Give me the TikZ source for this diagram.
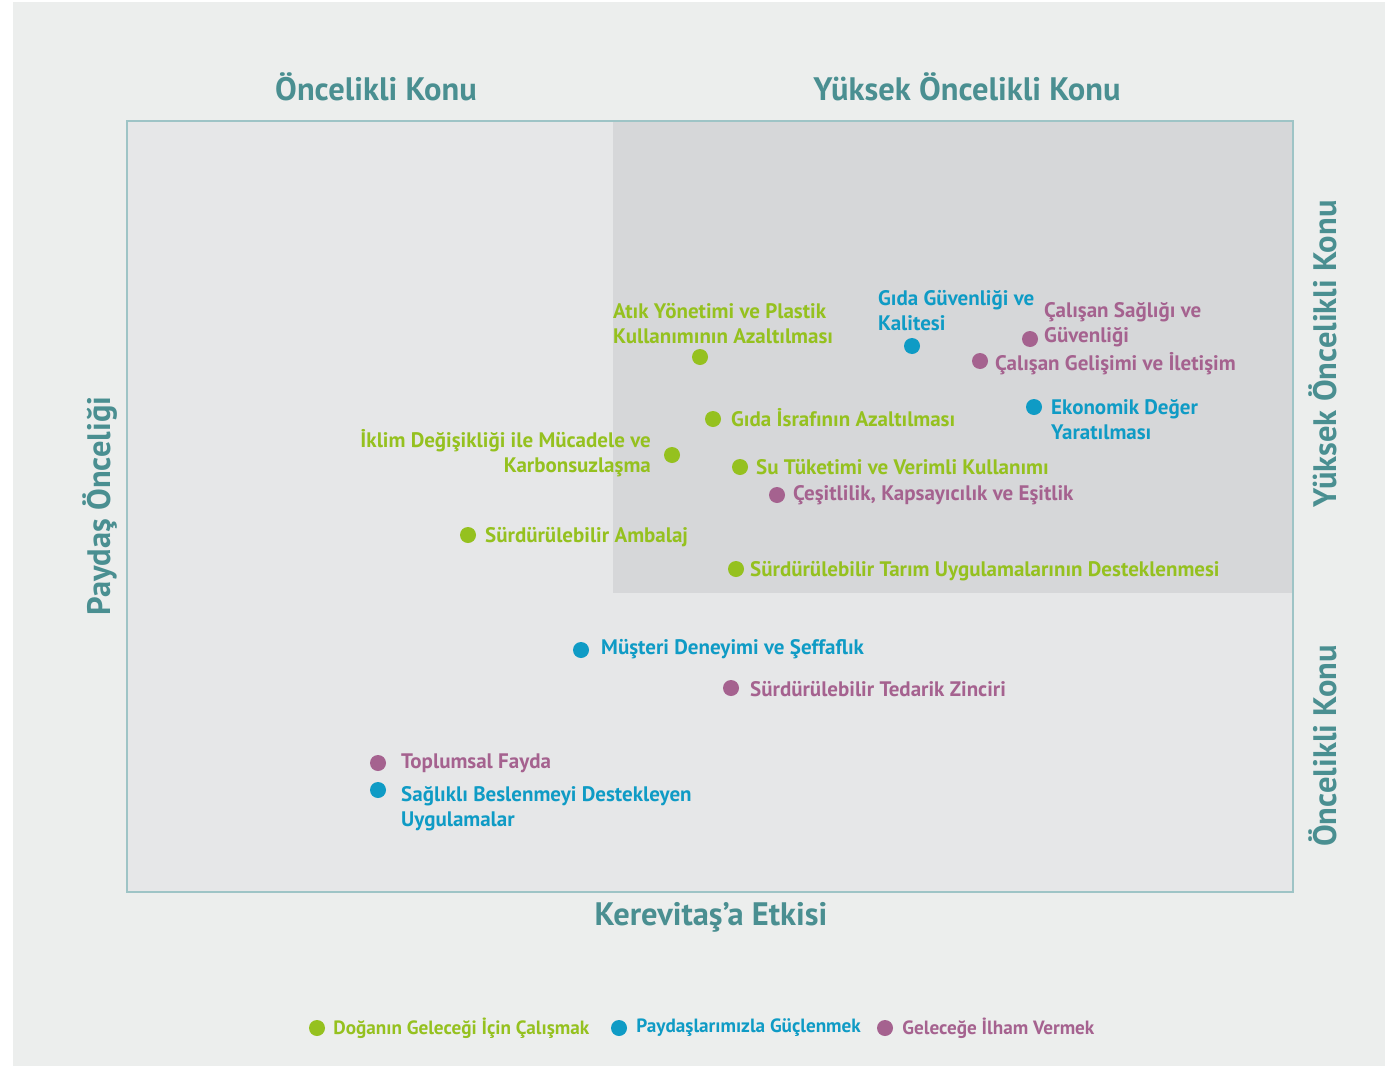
\documentclass[tikz,border=0pt]{standalone}
\usepackage{fontspec}
\setmainfont{PT Sans}
\usetikzlibrary{positioning}

\tikzset{
  dot/.style={circle, fill=#1, inner sep=0pt, minimum size=16pt},
  lbl/.style={text=#1, inner sep=0pt, align=left, font=\bfseries\fontsize{21}{25}\selectfont},
  leglbl/.style={text=#1, inner sep=0pt, font=\bfseries\fontsize{19.2}{22}\selectfont},
  head/.style={text=titleteal, inner sep=0pt, font=\bfseries\fontsize{32.5}{36}\selectfont}
}

\begin{document}
\begin{tikzpicture}[x=1pt, y=-1pt]

% Define colors for the picture
\definecolor{bggray}{RGB}{236,238,237}
\definecolor{boxgray}{RGB}{230,231,232}
\definecolor{highgray}{RGB}{214,215,217}
\definecolor{framecol}{RGB}{158,196,198}
\definecolor{titleteal}{RGB}{74,143,145}
\definecolor{natgreen}{RGB}{149,193,31}
\definecolor{stakeblue}{RGB}{15,155,197}
\definecolor{futpurple}{RGB}{165,98,143}

% Background and frame
\useasboundingbox (0,0) rectangle (1392,1068);
\fill[bggray] (13,2) rectangle (1385,1066);
\fill[boxgray] (127,121) rectangle (1293,892);
\fill[highgray] (613,121) rectangle (1293,593);
\draw[framecol, line width=2.5pt] (127,121) rectangle (1293,892);

% Headings
\node[head] (topleft) at (376,87) {Öncelikli Konu};
\node[head] (topright) at (967,87) {Yüksek Öncelikli Konu};
\node[head] (xaxis) at (711,917) {Kerevitaş’a Etkisi};
\node[head, rotate=90] (yaxis) at (100,506) {Paydaş Önceliği};
\node[head, rotate=90] (rightup) at (1323,354) {Yüksek Öncelikli Konu};
\node[head, rotate=90] (rightdown) at (1323,746) {Öncelikli Konu};

% Topics
\node[dot=natgreen] (atik) at (700,357) {};
\node[lbl=natgreen, anchor=west] (atiktxt) at (613,324) {Atık Yönetimi ve Plastik\\Kullanımının Azaltılması};

\node[dot=stakeblue] (gidag) at (912,346) {};
\node[lbl=stakeblue, anchor=west] (gidagtxt) at (878,311) {Gıda Güvenliği ve\\Kalitesi};

\node[dot=futpurple] (saglik) at (1030,339) {};
\node[lbl=futpurple, anchor=west] (saglitxt) at (1044,325) {Çalışan Sağlığı ve\\Güvenliği};

\node[dot=futpurple] (gelisim) at (980,361) {};
\node[lbl=futpurple, anchor=west] (gelisimtxt) at (995,364) {Çalışan Gelişimi ve İletişim};

\node[dot=stakeblue] (ekonomi) at (1034,407) {};
\node[lbl=stakeblue, anchor=west] (ekonomitxt) at (1051,420) {Ekonomik Değer\\Yaratılması};

\node[dot=natgreen] (israf) at (713,419) {};
\node[lbl=natgreen, anchor=west] (israftxt) at (731,418) {Gıda İsrafının Azaltılması};

\node[dot=natgreen] (iklim) at (672,455) {};
\node[lbl=natgreen, anchor=east, align=right] (iklimtxt) at (651,453) {İklim Değişikliği ile Mücadele ve\\Karbonsuzlaşma};

\node[dot=natgreen] (su) at (740,467) {};
\node[lbl=natgreen, anchor=west] (sutxt) at (756,467) {Su Tüketimi ve Verimli Kullanımı};

\node[dot=futpurple] (cesit) at (777,495) {};
\node[lbl=futpurple, anchor=west] (cesittxt) at (793,495) {Çeşitlilik, Kapsayıcılık ve Eşitlik};

\node[dot=natgreen] (ambalaj) at (468,535) {};
\node[lbl=natgreen, anchor=west] (ambalajtxt) at (485,537) {Sürdürülebilir Ambalaj};

\node[dot=natgreen] (tarim) at (736,569) {};
\node[lbl=natgreen, anchor=west] (tarimtxt) at (750,571) {Sürdürülebilir Tarım Uygulamalarının Desteklenmesi};

\node[dot=stakeblue] (musteri) at (581,650) {};
\node[lbl=stakeblue, anchor=west] (musteritxt) at (601,649) {Müşteri Deneyimi ve Şeffaflık};

\node[dot=futpurple] (tedarik) at (731,688) {};
\node[lbl=futpurple, anchor=west] (tedariktxt) at (750,689) {Sürdürülebilir Tedarik Zinciri};

\node[dot=futpurple] (fayda) at (378,763) {};
\node[lbl=futpurple, anchor=west] (faydatxt) at (401,763) {Toplumsal Fayda};

\node[dot=stakeblue] (beslenme) at (378,790) {};
\node[lbl=stakeblue, anchor=west] (beslenmetxt) at (401,809) {Sağlıklı Beslenmeyi Destekleyen\\Uygulamalar};

% Legend
\node[dot=natgreen] (leg1) at (317,1028) {};
\node[leglbl=natgreen, right=8pt of leg1] (leg1txt) {Doğanın Geleceği İçin Çalışmak};
\node[dot=stakeblue] (leg2) at (619,1028) {};
\node[leglbl=stakeblue, right=9pt of leg2] (leg2txt) {Paydaşlarımızla Güçlenmek};
\node[dot=futpurple] (leg3) at (885,1028) {};
\node[leglbl=futpurple, right=9pt of leg3] (leg3txt) {Geleceğe İlham Vermek};

\end{tikzpicture}
\end{document}
